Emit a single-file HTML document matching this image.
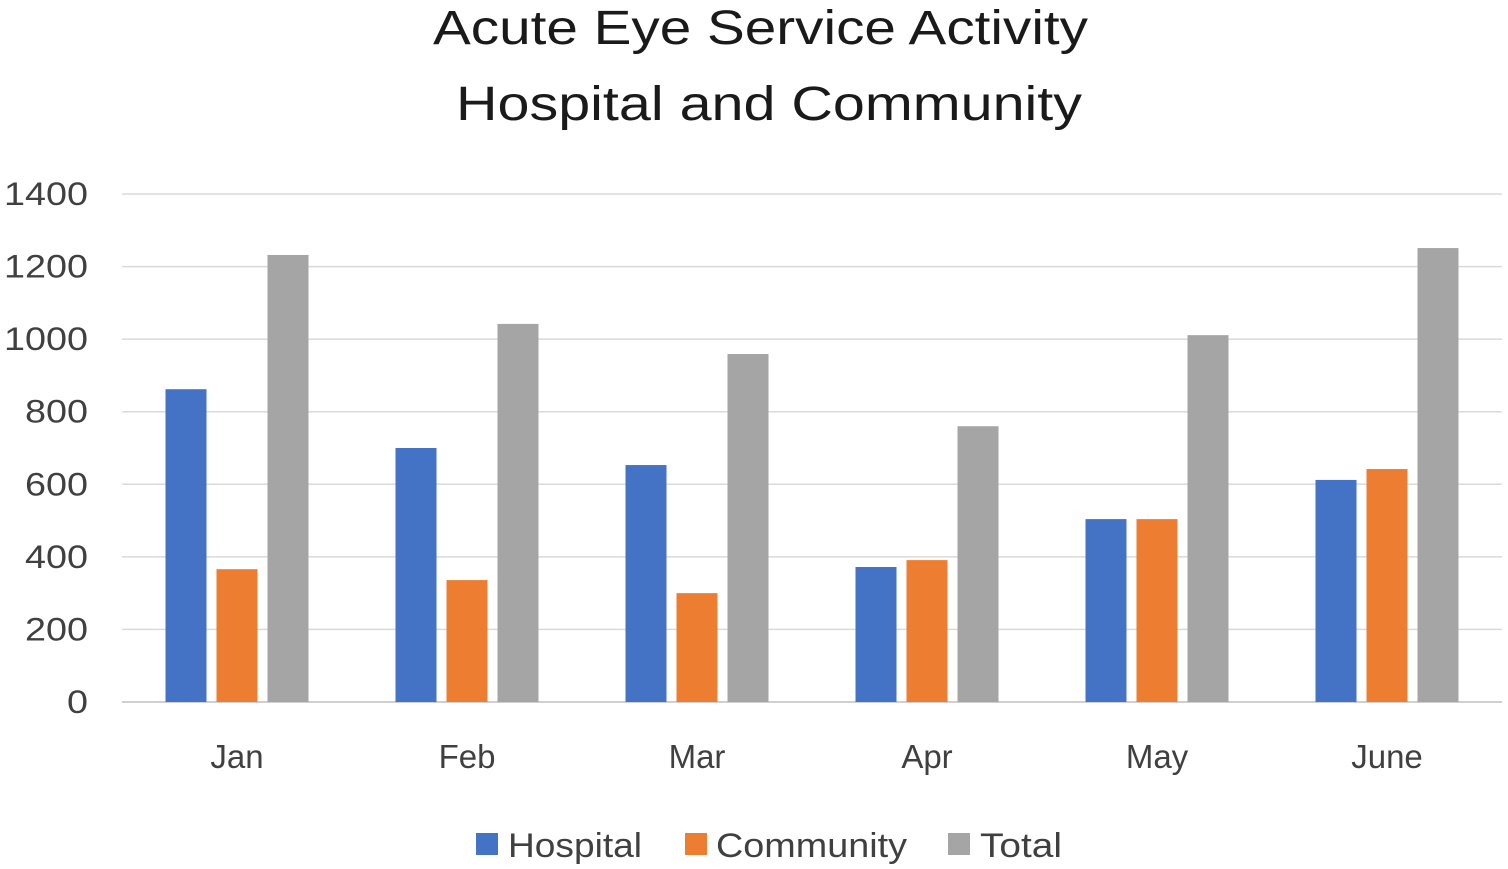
<!DOCTYPE html>
<html><head><meta charset="utf-8">
<style>
html,body{margin:0;padding:0;background:#fff;}
svg{display:block;font-family:"Liberation Sans",sans-serif;}
</style></head>
<body>
<svg id="chart" width="1508" height="869" viewBox="0 0 1508 869">
<text x="433" y="44" font-size="48" textLength="655" lengthAdjust="spacingAndGlyphs" fill="#1a1a1a">Acute Eye Service Activity</text>
<text x="456" y="120" font-size="48" textLength="626" lengthAdjust="spacingAndGlyphs" fill="#1a1a1a">Hospital and Community</text>
<g id="grid"></g>
<g id="bars"></g>
<g id="xlabels"></g>
<g id="legend">
<rect x="476" y="833" width="22" height="22" fill="#4472C4"/>
<text x="508" y="857" font-size="34" textLength="134" lengthAdjust="spacingAndGlyphs" fill="#404040">Hospital</text>
<rect x="685" y="833" width="22" height="22" fill="#ED7D31"/>
<text x="716" y="857" font-size="34" textLength="191" lengthAdjust="spacingAndGlyphs" fill="#404040">Community</text>
<rect x="948" y="833" width="22" height="22" fill="#A5A5A5"/>
<text x="980" y="857" font-size="34" textLength="82" lengthAdjust="spacingAndGlyphs" fill="#404040">Total</text>
</g>
</svg>
<script>
const categories = ["Jan","Feb","Mar","Apr","May","June"];
const hospital = [862,700,653,372,504,612];
const community = [366,336,300,391,504,642];
const total = [1232,1042,959,760,1011,1251];
const yTicks = [0,200,400,600,800,1000,1200,1400];

const NS = "http://www.w3.org/2000/svg";
const x0 = 122, x1 = 1502, y0 = 702, yTop = 194, yMax = 1400;
const yScale = v => y0 - (v / yMax) * (y0 - yTop);
const catW = (x1 - x0) / categories.length;
const xCenter = i => x0 + catW * (i + 0.5);
const barW = 41, gap = 10;

function mk(tag, attrs){const e=document.createElementNS(NS,tag);for(const k in attrs)e.setAttribute(k,attrs[k]);return e;}

const grid = document.getElementById('grid');
yTicks.forEach(t=>{
  const y = yScale(t);
  const l = mk('line',{x1:x0,x2:x1,y1:y,y2:y,stroke:t===0?'#d0d0d0':'#dadada','stroke-width':t===0?2:1.5});
  
  
  grid.appendChild(l);
  const s = String(t);
  const tx = mk('text',{x:88,y:y+11,'font-size':32,'text-anchor':'end',fill:'#404040',textLength:s.length*21,lengthAdjust:'spacingAndGlyphs'});
  tx.textContent = t;
  
  
  grid.appendChild(tx);
});

const bars = document.getElementById('bars');
const series = [[hospital,'#4472C4','hospital'],[community,'#ED7D31','community'],[total,'#A5A5A5','total']];
categories.forEach((c,i)=>{
  series.forEach((s,j)=>{
    const v = s[0][i];
    const x = xCenter(i) + (j-1)*(barW+gap) - barW/2;
    const r = mk('rect',{x:x,y:yScale(v),width:barW,height:y0-yScale(v),fill:s[1]});
    
    
    bars.appendChild(r);
  });
  const t = mk('text',{x:xCenter(i),y:768,'font-size':33,'text-anchor':'middle',fill:'#404040'});
  t.textContent = c;
  
  
  document.getElementById('xlabels').appendChild(t);
});
</script>
</body></html>
